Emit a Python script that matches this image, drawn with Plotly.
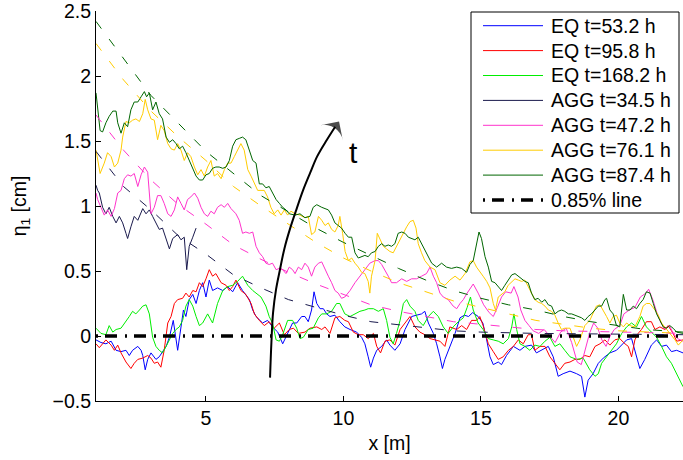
import plotly.graph_objects as go

# ---------------- data ----------------
eq53_x = [1.0,1.18,1.36,1.55,1.73,1.91,2.09,2.21,2.33,2.52,2.64,2.70,2.79,2.88,3.0,3.18,3.3,3.42,3.55,3.67,3.81,3.97,4.09,4.18,4.27,4.39,4.52,4.64,4.76,4.88,5.0,5.12,5.24,5.42,5.61,5.79,5.97,6.15,6.33,6.58,6.70,6.82,7.06,7.24,7.42,7.61,7.79,7.97,8.15,8.3,8.48,8.6,8.72,8.84,8.93,9.03,9.15,9.27,9.39,9.51,9.69,9.87,10.05,10.24,10.48,10.66,10.78,10.9,10.99,11.09,11.21,11.39,11.57,11.69,11.87,12.06,12.24,12.36,12.48,12.66,12.84,12.96,13.09,13.27,13.39,13.51,13.6,13.69,13.87,14.06,14.24,14.4,14.55,14.7,14.9,15.07,15.2,15.33,15.45,15.63,15.75,15.93,16.18,16.42,16.6,16.84,17.02,17.21,17.45,17.63,17.81,17.99,18.24,18.48,18.66,18.78,18.9,19.08,19.27,19.45,19.69,19.93,20.12,20.3,20.48,20.66,20.78,20.96,21.2,21.39,21.57,21.75,21.93,22.12,22.35]
eq53_y = [-0.03,-0.05,-0.06,-0.04,-0.11,-0.12,-0.11,-0.15,-0.11,-0.08,-0.11,-0.15,-0.26,-0.18,-0.13,-0.18,-0.16,-0.12,-0.08,-0.01,0.12,-0.11,0.07,0.2,0.15,0.28,0.32,0.25,0.35,0.41,0.30,0.43,0.35,0.37,0.35,0.38,0.34,0.41,0.35,0.28,0.2,0.15,0.1,0.12,0.07,0.03,-0.06,0.02,0.1,0.10,0.15,0.15,0.11,0.2,0.34,0.25,0.21,0.21,0.17,0.15,0.16,0.11,0.07,0.05,0.03,-0.01,-0.06,-0.16,-0.24,-0.17,-0.11,-0.08,-0.03,-0.07,-0.11,-0.06,0.05,0.1,0.15,0.16,0.17,0.19,0.1,0.02,-0.06,-0.16,-0.25,-0.18,-0.08,0.02,0.14,0.16,0.15,0.18,0.15,0.1,-0.02,-0.16,-0.22,-0.2,-0.22,-0.15,-0.08,-0.11,-0.08,-0.07,-0.13,-0.11,-0.08,-0.16,-0.31,-0.29,-0.27,-0.29,-0.31,-0.47,-0.34,-0.29,-0.21,-0.17,-0.13,-0.11,-0.07,-0.03,-0.02,-0.16,-0.25,-0.18,-0.07,-0.03,-0.08,-0.07,-0.12,-0.11,-0.13]

eq96_x = [1.0,1.12,1.24,1.36,1.55,1.67,1.79,1.91,2.09,2.27,2.39,2.52,2.7,2.88,3.0,3.12,3.24,3.36,3.48,3.61,3.73,3.85,3.97,4.15,4.27,4.39,4.52,4.64,4.76,4.88,5.0,5.12,5.24,5.36,5.55,5.73,5.85,5.97,6.09,6.27,6.45,6.64,6.76,6.94,7.12,7.3,7.48,7.67,7.85,8.03,8.18,8.36,8.6,8.78,9.03,9.21,9.33,9.51,9.69,9.87,10.05,10.18,10.36,10.54,10.72,10.9,11.09,11.21,11.35,11.51,11.69,11.87,12.06,12.24,12.42,12.6,12.78,12.96,13.15,13.33,13.51,13.69,13.87,14.12,14.3,14.48,14.66,14.84,14.96,15.08,15.27,15.45,15.63,15.81,16.0,16.18,16.36,16.54,16.72,16.84,16.96,17.15,17.33,17.51,17.69,17.87,18.05,18.24,18.42,18.6,18.78,18.96,19.15,19.33,19.51,19.69,19.87,20.05,20.24,20.36,20.48,20.6,20.72,20.84,21.02,21.2,21.33,21.51,21.69,21.81,21.99,22.12,22.35]
eq96_y = [-0.06,-0.09,-0.06,-0.03,-0.07,-0.11,-0.07,-0.13,-0.2,-0.25,-0.21,-0.18,-0.17,-0.15,-0.17,-0.21,-0.2,-0.24,-0.11,0.1,0.15,0.25,0.28,0.29,0.33,0.3,0.35,0.34,0.41,0.38,0.44,0.51,0.46,0.48,0.41,0.39,0.35,0.38,0.43,0.35,0.32,0.25,0.17,0.12,0.08,0.11,0.06,0.1,0.01,0.05,0.06,0.02,0.03,0.06,0.07,0.05,0.07,0.02,0.14,0.15,0.12,0.11,0.03,0.01,0.01,-0.02,0.02,-0.08,-0.13,-0.04,-0.03,-0.07,0.05,0.1,0.15,0.07,0.03,0.01,-0.02,-0.03,-0.04,-0.08,0.07,0.05,0.08,0.05,0.12,0.12,0.15,0.08,-0.06,-0.12,-0.18,-0.16,-0.11,-0.08,-0.03,-0.06,0.01,0.01,-0.11,-0.08,-0.08,-0.16,-0.21,-0.26,-0.21,-0.2,-0.18,-0.18,-0.15,-0.16,-0.08,-0.06,-0.03,-0.07,-0.03,-0.02,-0.06,-0.08,-0.16,-0.03,0.02,0.05,0.11,0.11,0.05,0.07,0.05,0.08,0.02,-0.04,-0.03]

eq168_x = [1.0,1.18,1.36,1.48,1.61,1.73,1.91,2.09,2.21,2.33,2.45,2.58,2.7,2.82,2.94,3.06,3.18,3.3,3.42,3.55,3.67,3.79,3.91,4.03,4.15,4.27,4.39,4.52,4.64,4.76,4.88,5.06,5.24,5.42,5.61,5.79,5.97,6.15,6.33,6.52,6.7,6.82,7.0,7.18,7.3,7.42,7.55,7.67,7.79,7.97,8.15,8.3,8.42,8.54,8.72,8.9,9.09,9.21,9.39,9.57,9.75,9.87,10.05,10.24,10.42,10.6,10.78,10.9,11.09,11.27,11.45,11.57,11.69,11.81,11.93,12.06,12.18,12.3,12.42,12.6,12.72,12.9,13.09,13.27,13.45,13.63,13.81,13.99,14.18,14.36,14.5,14.62,14.72,14.9,15.08,15.27,15.45,15.63,15.81,16.0,16.12,16.2,16.3,16.42,16.6,16.78,16.96,17.15,17.33,17.51,17.69,17.87,18.05,18.24,18.48,18.72,18.96,19.15,19.27,19.39,19.57,19.75,19.93,20.12,20.3,20.48,20.66,20.84,21.02,21.2,21.39,21.57,21.75,21.93,22.12,22.35]
eq168_y = [0.06,0.02,0.01,0.08,0.03,0.05,0.06,0.11,0.15,0.19,0.17,0.2,0.23,0.24,0.17,-0.01,-0.08,-0.11,-0.13,-0.08,-0.03,0.02,0.05,0.07,0.12,0.23,0.28,0.23,0.15,0.08,0.1,0.17,0.1,0.25,0.35,0.38,0.39,0.42,0.46,0.39,0.35,0.33,0.3,0.23,0.15,0.1,-0.03,-0.04,0.01,0.12,0.12,0.06,-0.02,-0.01,0.05,0.06,0.14,0.17,0.17,0.19,0.25,0.25,0.17,0.15,0.17,0.19,0.2,0.21,0.21,0.19,0.21,0.12,-0.01,-0.06,0.02,0.12,0.25,0.28,0.23,0.19,0.12,0.08,0.15,0.19,0.15,0.07,0.02,0.07,0.11,0.14,0.22,0.3,0.2,0.1,0.05,-0.02,-0.03,-0.04,-0.06,-0.02,0.07,0.17,0.05,-0.06,-0.08,-0.11,-0.07,-0.08,-0.04,-0.01,-0.08,-0.06,-0.11,-0.16,-0.18,-0.17,-0.26,-0.31,-0.29,-0.21,-0.16,-0.11,-0.06,0.02,0.07,0.1,0.07,0.15,0.07,0.03,-0.01,-0.08,-0.16,-0.21,-0.29,-0.39]

agg34_x = [1.0,1.06,1.12,1.24,1.36,1.48,1.61,1.73,1.85,1.97,2.09,2.15,2.27,2.39,2.52,2.64,2.7,2.82,2.94,3.06,3.18,3.3,3.42,3.55,3.67,3.79,3.97,4.09,4.21,4.3,4.39,4.52,4.64]
agg34_y = [1.16,1.12,1.1,0.99,0.94,0.99,0.92,0.87,0.92,0.87,0.79,0.75,0.84,0.92,0.89,0.96,0.98,0.94,0.97,0.92,0.87,0.82,0.83,0.74,0.67,0.75,0.78,0.74,0.76,0.51,0.69,0.76,0.83]

agg47_x = [1.0,1.06,1.18,1.3,1.42,1.55,1.67,1.79,1.91,2.03,2.15,2.27,2.39,2.52,2.64,2.76,2.88,2.94,3.0,3.12,3.24,3.36,3.48,3.61,3.73,3.85,3.97,4.09,4.21,4.33,4.45,4.58,4.7,4.82,4.94,5.06,5.18,5.3,5.42,5.55,5.67,5.79,5.91,6.09,6.21,6.33,6.45,6.58,6.7,6.82,6.94,7.06,7.18,7.3,7.42,7.55,7.67,7.79,7.91,8.03,8.15,8.24,8.36,8.48,8.6,8.72,8.84,8.96,9.09,9.21,9.33,9.45,9.57,9.69,9.81,9.93,10.05,10.24,10.42,10.6,10.78,10.96,11.15,11.27,11.39,11.51,11.63,11.75,11.93,12.12,12.3,12.48,12.66,12.84,13.02,13.15,13.27,13.39,13.51,13.63,13.81,13.99,14.12,14.24,14.36,14.5,14.6,14.72,14.9,15.1,15.3,15.45,15.6,15.75,15.9,16.1,16.2,16.35,16.45,16.6,16.75,16.9,17.1,17.3,17.5,17.7,17.9,18.1,18.3,18.5,18.65,18.8,18.95,19.1,19.25,19.4,19.55,19.7,19.85,20.05,20.2,20.4,20.6,20.8,21.0,21.1,21.25,21.4,21.55,21.7,21.85,22.0,22.15,22.35]
agg47_y = [1.1,1.05,0.99,0.93,0.97,0.92,0.98,1.1,1.12,1.21,1.24,1.23,1.25,1.15,1.24,1.3,1.26,1.12,0.94,0.99,1.08,1.08,1.02,0.94,0.92,0.97,1.07,1.02,0.97,1.05,1.07,1.1,1.06,0.99,0.94,0.92,0.96,0.94,0.99,1.01,0.99,1.02,0.98,0.94,0.89,0.79,0.8,0.79,0.8,0.69,0.64,0.61,0.56,0.55,0.56,0.51,0.52,0.51,0.48,0.53,0.51,0.48,0.53,0.51,0.56,0.53,0.46,0.53,0.56,0.57,0.51,0.46,0.41,0.35,0.33,0.29,0.3,0.35,0.41,0.46,0.51,0.56,0.58,0.58,0.55,0.51,0.46,0.41,0.41,0.44,0.42,0.44,0.44,0.46,0.48,0.53,0.46,0.41,0.33,0.3,0.28,0.23,0.21,0.25,0.28,0.33,0.36,0.40,0.33,0.24,0.18,0.15,0.22,0.3,0.34,0.33,0.38,0.3,0.2,0.12,0.08,0.04,0.02,0.05,0.0,-0.05,0.03,0.06,-0.05,-0.2,-0.22,-0.1,0.02,0.1,0.06,-0.03,-0.08,0.0,0.05,0.08,0.17,0.2,0.22,0.3,0.33,0.36,0.28,0.18,0.1,0.05,0.08,0.02,-0.02,-0.04]

agg76_x = [1.0,1.06,1.15,1.3,1.42,1.55,1.67,1.79,1.91,1.97,2.09,2.21,2.33,2.45,2.58,2.7,2.79,2.88,3.0,3.12,3.24,3.36,3.48,3.61,3.73,3.85,3.97,4.09,4.21,4.33,4.45,4.58,4.7,4.82,4.94,5.06,5.18,5.3,5.42,5.55,5.67,5.79,5.91,6.03,6.15,6.27,6.39,6.52,6.64,6.76,6.88,7.0,7.12,7.24,7.36,7.48,7.61,7.73,7.85,7.97,8.09,8.24,8.42,8.6,8.72,8.84,8.96,9.09,9.21,9.33,9.45,9.57,9.69,9.81,9.87,9.97,10.06,10.18,10.3,10.42,10.54,10.66,10.78,10.9,10.96,11.02,11.15,11.23,11.33,11.45,11.57,11.69,11.81,11.93,12.06,12.18,12.3,12.42,12.54,12.64,12.72,12.84,12.96,13.15,13.33,13.51,13.69,13.87,14.06,14.24,14.42,14.6,14.72,14.84,14.96,15.08,15.21,15.33,15.45,15.53,15.63,15.75,15.87,15.99,16.12,16.24,16.36,16.48,16.6,16.72,16.84,16.96,17.08,17.21,17.33,17.45,17.57,17.69,17.81,17.93,18.05,18.24,18.36,18.48,18.6,18.78,18.96,19.08,19.2,19.33,19.45,19.57,19.69,19.81,19.93,20.05,20.18,20.3,20.42,20.6,20.78,20.9,21.02,21.15,21.33,21.45,21.57,21.69,21.87,22.06,22.18,22.35]
agg76_y = [1.43,1.35,1.25,1.33,1.41,1.38,1.3,1.33,1.43,1.53,1.65,1.64,1.66,1.67,1.65,1.71,1.82,1.74,1.67,1.66,1.51,1.62,1.58,1.48,1.44,1.43,1.48,1.43,1.35,1.41,1.38,1.3,1.24,1.28,1.23,1.3,1.35,1.23,1.25,1.21,1.28,1.33,1.33,1.38,1.43,1.48,1.43,1.28,1.23,1.17,1.12,1.12,1.12,1.07,0.99,0.94,0.97,0.93,0.97,0.93,0.96,0.94,0.93,0.91,0.92,0.78,0.8,0.92,0.89,0.85,0.87,0.82,0.8,0.85,0.92,0.79,0.65,0.58,0.6,0.56,0.53,0.49,0.48,0.42,0.33,0.46,0.58,0.79,0.74,0.69,0.67,0.65,0.64,0.69,0.74,0.79,0.84,0.88,0.89,0.83,0.71,0.64,0.58,0.53,0.51,0.41,0.39,0.43,0.46,0.43,0.48,0.57,0.58,0.53,0.49,0.46,0.42,0.37,0.25,0.2,0.3,0.32,0.34,0.39,0.42,0.44,0.43,0.42,0.43,0.38,0.32,0.28,0.26,0.25,0.23,0.2,0.19,0.16,0.1,0.05,0.06,0.06,-0.01,-0.08,-0.03,0.08,0.12,0.17,0.23,0.24,0.2,0.15,0.1,0.15,0.16,0.1,0.07,0.1,0.08,0.07,0.15,0.23,0.25,0.25,0.2,0.16,0.1,0.07,0.02,-0.03,-0.07,-0.03]

agg87_x = [1.0,1.06,1.15,1.24,1.36,1.48,1.61,1.73,1.79,1.91,2.03,2.15,2.27,2.39,2.52,2.64,2.76,2.84,2.94,3.06,3.18,3.3,3.42,3.55,3.67,3.79,3.91,4.03,4.15,4.27,4.39,4.52,4.64,4.76,4.88,5.0,5.12,5.24,5.36,5.48,5.61,5.73,5.85,5.97,6.09,6.21,6.33,6.45,6.58,6.7,6.82,6.94,7.06,7.18,7.3,7.42,7.55,7.67,7.79,7.91,8.03,8.24,8.42,8.6,8.78,8.9,9.03,9.21,9.33,9.45,9.57,9.69,9.81,9.93,10.06,10.18,10.3,10.42,10.54,10.66,10.78,10.9,11.02,11.15,11.27,11.39,11.51,11.63,11.75,11.87,11.99,12.12,12.24,12.36,12.48,12.6,12.72,12.84,12.96,13.09,13.21,13.39,13.57,13.75,13.93,14.12,14.3,14.48,14.6,14.72,14.84,14.93,15.02,15.15,15.27,15.39,15.51,15.63,15.75,15.87,15.99,16.12,16.24,16.36,16.48,16.6,16.72,16.84,16.96,17.08,17.21,17.33,17.45,17.57,17.69,17.81,17.93,18.05,18.18,18.3,18.42,18.54,18.66,18.78,18.9,19.02,19.15,19.27,19.39,19.51,19.57,19.69,19.81,19.93,20.05,20.18,20.3,20.42,20.54,20.66,20.78,20.9,21.02,21.15,21.27,21.39,21.51,21.63,21.75,21.87,21.99,22.12,22.35]
agg87_y = [1.87,1.74,1.58,1.57,1.64,1.69,1.73,1.73,1.64,1.56,1.64,1.61,1.74,1.8,1.8,1.84,1.88,1.84,1.87,1.74,1.8,1.71,1.67,1.53,1.49,1.51,1.48,1.44,1.46,1.41,1.35,1.28,1.23,1.2,1.2,1.24,1.25,1.29,1.3,1.3,1.29,1.3,1.35,1.46,1.51,1.52,1.53,1.51,1.43,1.35,1.33,1.17,1.17,1.14,1.15,1.1,1.05,1.02,0.99,0.97,0.94,0.93,0.94,0.91,0.92,0.99,1.01,0.99,0.98,0.97,0.93,0.87,0.85,0.83,0.79,0.76,0.76,0.64,0.6,0.61,0.62,0.61,0.64,0.65,0.69,0.71,0.69,0.7,0.69,0.71,0.79,0.8,0.79,0.76,0.75,0.74,0.76,0.71,0.66,0.61,0.56,0.53,0.56,0.53,0.52,0.53,0.52,0.49,0.55,0.58,0.71,0.8,0.75,0.61,0.53,0.42,0.41,0.38,0.35,0.39,0.43,0.47,0.48,0.46,0.44,0.42,0.41,0.33,0.28,0.29,0.26,0.28,0.24,0.23,0.17,0.19,0.2,0.19,0.17,0.17,0.16,0.15,0.14,0.12,0.15,0.17,0.2,0.23,0.23,0.28,0.29,0.2,0.17,0.08,0.07,0.32,0.2,0.2,0.23,0.21,0.25,0.28,0.34,0.33,0.25,0.17,0.12,0.07,0.06,0.08,0.06,0.03,0.02]

# exponential-fit dashed lines (read at points)
fit34_x = [1,2,3,4,5,6,7,8,9,10,11,12,13,14,15,17,22.35]
fit34_y = [1.42,1.15,0.97,0.77,0.63,0.47,0.37,0.28,0.22,0.16,0.11,0.085,0.06,0.04,0.03,0.02,0.01]
fit47_x = [1,2,3,4,5,6,7,8,9,10,11,12,13,14,15,16,17,18,20,22.35]
fit47_y = [1.7,1.43,1.2,1.01,0.86,0.7,0.59,0.49,0.4,0.32,0.24,0.19,0.15,0.11,0.09,0.07,0.05,0.04,0.03,0.02]
fit76_x = [1,2,3,4,5,6,7,8,9,10,11,12,13,14,15,16,17,18,19,20,21,22.35]
fit76_y = [2.25,1.97,1.73,1.53,1.35,1.15,1.0,0.86,0.72,0.6,0.5,0.41,0.34,0.27,0.22,0.17,0.12,0.09,0.06,0.04,0.03,0.02]
fit87_x = [1,3,5,7,9,10,11,12,13,14,15,16,17,18,19,20,21,22.35]
fit87_y = [2.42,1.85,1.42,1.08,0.83,0.72,0.62,0.52,0.43,0.35,0.29,0.24,0.2,0.15,0.11,0.08,0.05,0.03]

line085_x = [1.0, 22.35]
line085_y = [0.0, 0.0]

arrow_x = [7.33,7.38,7.44,7.55,7.69,7.85,8.05,8.3,8.53,8.8,9.04,9.4,9.7]
arrow_y = [-0.32,-0.05,0.18,0.36,0.51,0.67,0.82,0.98,1.12,1.26,1.38,1.51,1.61]
arrow_tip = (9.84, 1.65)
t_label_pos = (10.38, 1.41)

x_ticks = [5, 10, 15, 20]
y_ticks = [-0.5, 0, 0.5, 1, 1.5, 2, 2.5]

# ---------------- styles ----------------
C_BLUE = '#0000ff'
C_RED = '#ff0000'
C_GREEN = '#00ee00'
C_NAVY = '#1a1a4d'
C_PINK = '#ff33cc'
C_YELLOW = '#ffcc00'
C_DGREEN = '#006600'
FONT = 'Liberation Sans, Arial, Helvetica, sans-serif'
FS = 19.5
DASH085 = '2px,7px,12px,8px'

W, H = 683, 460
ML, MT, MR, MB = 96, 11, 0, 59
PW, PH = W - ML - MR, H - MT - MB    # plot area size (587 x 390)


def pxx(px):   # figure pixel -> paper x
    return (px - ML) / PW


def pxy(py):   # figure pixel -> paper y
    return (MT + PH - py) / PH


fig = go.Figure()

series = [
    (eq53_x, eq53_y, C_BLUE, 'EQ t=53.2 h'),
    (eq96_x, eq96_y, C_RED, 'EQ t=95.8 h'),
    (eq168_x, eq168_y, C_GREEN, 'EQ t=168.2 h'),
    (agg34_x, agg34_y, C_NAVY, 'AGG t=34.5 h'),
    (agg47_x, agg47_y, C_PINK, 'AGG t=47.2 h'),
    (agg76_x, agg76_y, C_YELLOW, 'AGG t=76.1 h'),
    (agg87_x, agg87_y, C_DGREEN, 'AGG t=87.4 h'),
]
for xs, ys, col, name in series:
    fig.add_trace(go.Scatter(x=xs, y=ys, mode='lines', name=name, showlegend=False,
                             line=dict(color=col, width=1)))

fig.add_trace(go.Scatter(x=line085_x, y=line085_y, mode='lines', name='0.85% line',
                         showlegend=False,
                         line=dict(color='black', width=3.5, dash=DASH085)))

fits = [(fit34_x, fit34_y, C_NAVY), (fit47_x, fit47_y, C_PINK),
        (fit76_x, fit76_y, C_YELLOW), (fit87_x, fit87_y, C_DGREEN)]
for xs, ys, col in fits:
    fig.add_trace(go.Scatter(x=xs, y=ys, mode='lines', showlegend=False,
                             line=dict(color=col, width=1, dash='9px,13px')))

# curved "t" arrow: spline body + wide arrowhead marker oriented along the curve
fig.add_trace(go.Scatter(x=arrow_x, y=arrow_y, mode='lines', showlegend=False,
                         line=dict(color='black', width=2, shape='spline')))
fig.add_trace(go.Scatter(x=[arrow_x[-2], arrow_tip[0]], y=[arrow_y[-2], arrow_tip[1]],
                         mode='markers', showlegend=False,
                         marker=dict(symbol='arrow-wide', size=[0, 19], angleref='previous',
                                     color='black', line=dict(width=0))))

fig.add_annotation(x=t_label_pos[0], y=t_label_pos[1], xref='x', yref='y',
                   text='t', showarrow=False, font=dict(size=30, color='black', family=FONT))

# ---------------- legend (box, line samples, labels) ----------------
legend_entries = [(name, col, 1, None) for _, _, col, name in series]
legend_entries.append(('0.85% line', 'black', 3.5, DASH085))

shapes = [dict(type='rect', xref='paper', yref='paper', layer='above',
               x0=pxx(471), x1=pxx(679), y0=pxy(213), y1=pxy(12),
               line=dict(color='black', width=1), fillcolor='white')]
row0, rowstep = 25.7, 24.9
for i, (name, col, w, dash) in enumerate(legend_entries):
    yy = pxy(row0 + i * rowstep)
    ln = dict(color=col, width=w)
    if dash:
        ln['dash'] = dash
    shapes.append(dict(type='line', xref='paper', yref='paper', layer='above',
                       x0=pxx(483), x1=pxx(543), y0=yy, y1=yy, line=ln))
    fig.add_annotation(x=pxx(549), y=yy, xref='paper', yref='paper', text=name,
                       showarrow=False, xanchor='left', yanchor='middle',
                       font=dict(size=FS, color='black', family=FONT))

fig.update_layout(
    width=W, height=H,
    margin=dict(l=ML, r=MR, t=MT, b=MB, pad=0),
    paper_bgcolor='white', plot_bgcolor='white',
    font=dict(family=FONT, size=FS, color='black'),
    showlegend=False,
    shapes=shapes,
    xaxis=dict(range=[1, 22.35], tickvals=x_ticks, ticks='inside', ticklen=5,
               tickcolor='black', showline=True, linecolor='black', linewidth=1,
               showgrid=False, zeroline=False, mirror=False, ticklabeloverflow='allow',
               title=dict(text='x [m]', font=dict(size=FS), standoff=7)),
    yaxis=dict(range=[-0.5, 2.5], tickvals=y_ticks, ticks='inside', ticklen=5,
               tickcolor='black', showline=True, linecolor='black', linewidth=1,
               showgrid=False, zeroline=False, mirror=False, ticklabeloverflow='allow',
               title=dict(text='η<sub>1</sub> [cm]', font=dict(size=FS), standoff=20)),
)

fig.write_html('out.html', config={'displayModeBar': False},
               post_script="document.body.style.margin='0px';")
